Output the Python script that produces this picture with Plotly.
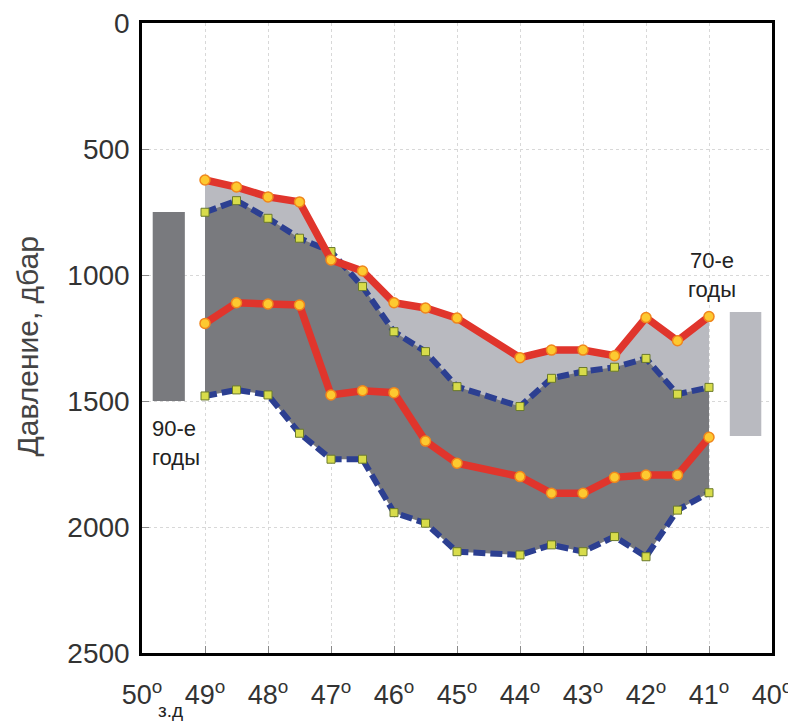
import plotly.graph_objects as go

# Longitude (degrees W) of stations
lon = [49, 48.5, 48, 47.5, 47, 46.5, 46, 45.5, 45, 44, 43.5, 43, 42.5, 42, 41.5, 41]

# 70s layer: upper and lower boundary (red)
red_top = [623, 651, 690, 710, 940, 984, 1110, 1131, 1171, 1328, 1298, 1298, 1320, 1169, 1261, 1165]
red_mid = [1192, 1110, 1115, 1119, 1476, 1459, 1467, 1659, 1747, 1800, 1866, 1866, 1803, 1794, 1794, 1644]

# 90s layer: upper and lower boundary (blue dashed)
blue_top = [751, 705, 775, 854, 907, 1046, 1225, 1304, 1443, 1522, 1410, 1383, 1366, 1331, 1473, 1446]
blue_bot = [1480, 1456, 1476, 1628, 1731, 1731, 1943, 1985, 2098, 2111, 2071, 2098, 2038, 2118, 1933, 1864]

# Mean-range bars
bar90_lon = [49.83, 49.32]
bar90_p = [750, 1500]
bar70_lon = [40.67, 40.17]
bar70_p = [1147, 1639]

x_ticks = [50, 49, 48, 47, 46, 45, 44, 43, 42, 41, 40]
x_ticktext = [f"{v}<sup>o</sup>" for v in x_ticks]
y_ticks = [0, 500, 1000, 1500, 2000, 2500]

LIGHT = "#b9bac0"
DARK = "#797a7e"

fig = go.Figure()

# light fill (70s)
fig.add_trace(go.Scatter(
    x=lon + lon[::-1], y=red_top + red_mid[::-1], fill="toself",
    fillcolor=LIGHT, line=dict(width=0), mode="lines", hoverinfo="skip", showlegend=False))
# dark fill (90s)
fig.add_trace(go.Scatter(
    x=lon + lon[::-1], y=blue_top + blue_bot[::-1], fill="toself",
    fillcolor=DARK, line=dict(width=0), mode="lines", hoverinfo="skip", showlegend=False))

# bars
def rect(xs, ys, color):
    return go.Scatter(
        x=[xs[0], xs[1], xs[1], xs[0], xs[0]],
        y=[ys[0], ys[0], ys[1], ys[1], ys[0]],
        fill="toself", fillcolor=color, line=dict(width=0),
        mode="lines", hoverinfo="skip", showlegend=False)

fig.add_trace(rect(bar90_lon, bar90_p, DARK))
fig.add_trace(rect(bar70_lon, bar70_p, LIGHT))

blue_line = dict(color="#2c3f91", width=6, dash="12px,5px")
blue_marker = dict(symbol="square", size=8, color="#d8dc4a", line=dict(color="#6b7a2c", width=1))
red_line = dict(color="#e0352c", width=7.5)
red_marker = dict(symbol="circle", size=10, color="#fdc930", line=dict(color="#f0861c", width=1.5))

for ys in (blue_top, blue_bot):
    fig.add_trace(go.Scatter(x=lon, y=ys, mode="lines+markers", line=blue_line,
                             marker=blue_marker, showlegend=False))
for ys in (red_top, red_mid):
    fig.add_trace(go.Scatter(x=lon, y=ys, mode="lines+markers", line=red_line,
                             marker=red_marker, showlegend=False))

FONT = "Liberation Sans, Arial, sans-serif"

fig.add_annotation(x=40.95, y=1000, xref="x", yref="y", text="70-е<br>годы",
                   showarrow=False, font=dict(family=FONT, size=22, color="#222"),
                   xanchor="center", yanchor="middle", align="center")
fig.add_annotation(x=49.87, y=1665, xref="x", yref="y", text="90-е<br>годы",
                   showarrow=False, font=dict(family=FONT, size=22, color="#222"),
                   xanchor="left", yanchor="middle", align="left")
fig.add_annotation(x=49.55, y=-0.092, xref="x", yref="paper", text="з.д",
                   showarrow=False, font=dict(family=FONT, size=19, color="#222"),
                   xanchor="center", yanchor="middle")
fig.add_annotation(x=-0.182, y=0.487, xref="paper", yref="paper", text="Давление, дбар",
                   textangle=-90, showarrow=False,
                   font=dict(family=FONT, size=30, color="#444"),
                   xanchor="center", yanchor="middle")

fig.update_layout(
    width=788, height=718,
    margin=dict(l=134, r=24, t=15, b=73),
    paper_bgcolor="white", plot_bgcolor="white",
    font=dict(family=FONT, color="#333"),
    xaxis=dict(range=[50, 40], tickvals=x_ticks, ticktext=x_ticktext,
               tickfont=dict(size=27, color="#333"), automargin=False,
               ticklabelstandoff=16, ticklabeloverflow="allow",
               showgrid=True, gridcolor="#d8d8d8", griddash="dot", gridwidth=1,
               showline=True, linecolor="black", linewidth=2.5, mirror=True,
               ticks="inside", ticklen=7, tickcolor="#888", zeroline=False),
    yaxis=dict(range=[2500, 0], tickvals=y_ticks, automargin=False,
               tickfont=dict(size=28, color="#333"), ticklabelstandoff=4,
               ticklabeloverflow="allow",
               showgrid=True, gridcolor="#d8d8d8", griddash="dot", gridwidth=1,
               showline=True, linecolor="black", linewidth=2.5, mirror=True,
               ticks="inside", ticklen=7, tickcolor="#888", zeroline=False),
)

fig.write_html("out.html")
